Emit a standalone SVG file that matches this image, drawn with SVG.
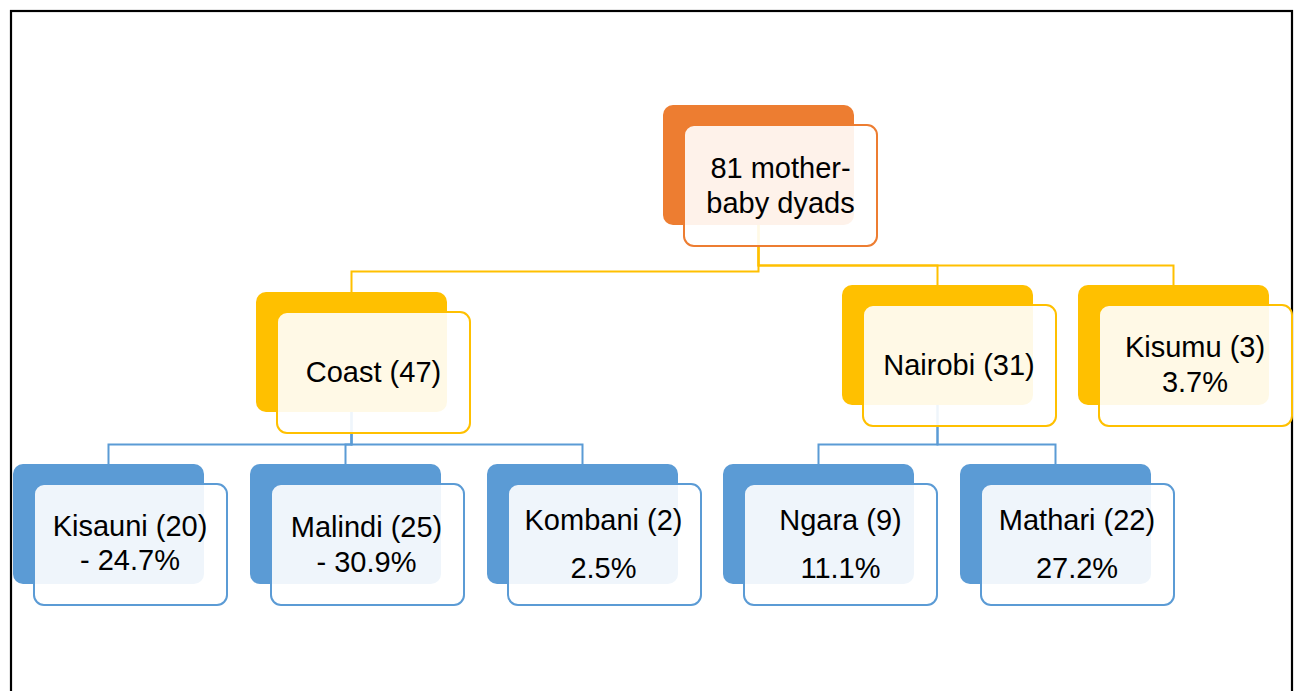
<svg xmlns="http://www.w3.org/2000/svg" width="1298" height="691" viewBox="0 0 1298 691">
<style>
  .t { font-family: "Liberation Sans", Arial, sans-serif; font-size: 29px; fill: #000; text-anchor: middle; }
  .back { stroke: none; }
  .front { fill: #ffffff; fill-opacity: 0.9; stroke-width: 2; }
  .o .back { fill: #ED7D31; } .o .front { stroke: #ED7D31; }
  .y .back { fill: #FFC000; } .y .front { stroke: #FFC000; }
  .b .back { fill: #5B9BD5; } .b .front { stroke: #5B9BD5; }
  .conn path { fill: none; stroke-width: 2; }
  .cy { stroke: #FFC000; }
  .cb { stroke: #5B9BD5; }
</style>
<rect x="0" y="0" width="1298" height="691" fill="#ffffff"/>
<rect x="11" y="11" width="1281" height="700" fill="none" stroke="#000" stroke-width="2.2"/>
<g id="connectors" class="conn">
  <path class="cy" d="M758.5,225 V271.5 H351.5 V292"/>
  <path class="cy" d="M758.5,225 V265.5 H937.5 V285"/>
  <path class="cy" d="M758.5,225 V265.5 H1173.5 V285"/>
  <path class="cb" d="M351.5,411 V444.5 H108.5 V464"/>
  <path class="cb" d="M351.5,411 V444.5 H345.5 V464"/>
  <path class="cb" d="M351.5,411 V444.5 H582.5 V464"/>
  <path class="cb" d="M937.5,404 V444.5 H818.5 V464"/>
  <path class="cb" d="M937.5,404 V444.5 H1055.5 V464"/>
</g>
<g id="node-root" class="o">
  <rect class="back" x="663" y="105" width="191" height="120" rx="10"/>
  <rect class="front" x="684" y="125" width="193" height="121" rx="10"/>
  <text class="t" x="780.5" y="178">81 mother-</text>
  <text class="t" x="780.5" y="213">baby dyads</text>
</g>
<g id="node-coast" class="y">
  <rect class="back" x="256" y="292" width="191" height="120" rx="10"/>
  <rect class="front" x="277" y="312" width="193" height="121" rx="10"/>
  <text class="t" x="373.5" y="382">Coast (47)</text>
</g>
<g id="node-nairobi" class="y">
  <rect class="back" x="842" y="285" width="191" height="120" rx="10"/>
  <rect class="front" x="863" y="305" width="193" height="121" rx="10"/>
  <text class="t" x="959" y="375">Nairobi (31)</text>
</g>
<g id="node-kisumu" class="y">
  <rect class="back" x="1078" y="285" width="191" height="120" rx="10"/>
  <rect class="front" x="1099" y="305" width="193" height="121" rx="10"/>
  <text class="t" x="1195" y="357">Kisumu (3)</text>
  <text class="t" x="1195" y="392">3.7%</text>
</g>
<g id="node-kisauni" class="b">
  <rect class="back" x="13" y="464" width="191" height="120" rx="10"/>
  <rect class="front" x="34" y="484" width="193" height="121" rx="10"/>
  <text class="t" x="130" y="536">Kisauni (20)</text>
  <text class="t" x="130" y="570">- 24.7%</text>
</g>
<g id="node-malindi" class="b">
  <rect class="back" x="250" y="464" width="191" height="120" rx="10"/>
  <rect class="front" x="271" y="484" width="193" height="121" rx="10"/>
  <text class="t" x="366.5" y="537">Malindi (25)</text>
  <text class="t" x="366.5" y="572">- 30.9%</text>
</g>
<g id="node-kombani" class="b">
  <rect class="back" x="487" y="464" width="191" height="120" rx="10"/>
  <rect class="front" x="508" y="484" width="193" height="121" rx="10"/>
  <text class="t" x="603.5" y="530">Kombani (2)</text>
  <text class="t" x="603.5" y="578">2.5%</text>
</g>
<g id="node-ngara" class="b">
  <rect class="back" x="723" y="464" width="191" height="120" rx="10"/>
  <rect class="front" x="744" y="484" width="193" height="121" rx="10"/>
  <text class="t" x="840.5" y="530">Ngara (9)</text>
  <text class="t" x="840.5" y="578">11.1%</text>
</g>
<g id="node-mathari" class="b">
  <rect class="back" x="960" y="464" width="191" height="120" rx="10"/>
  <rect class="front" x="981" y="484" width="193" height="121" rx="10"/>
  <text class="t" x="1077" y="530">Mathari (22)</text>
  <text class="t" x="1077" y="578">27.2%</text>
</g>
</svg>
